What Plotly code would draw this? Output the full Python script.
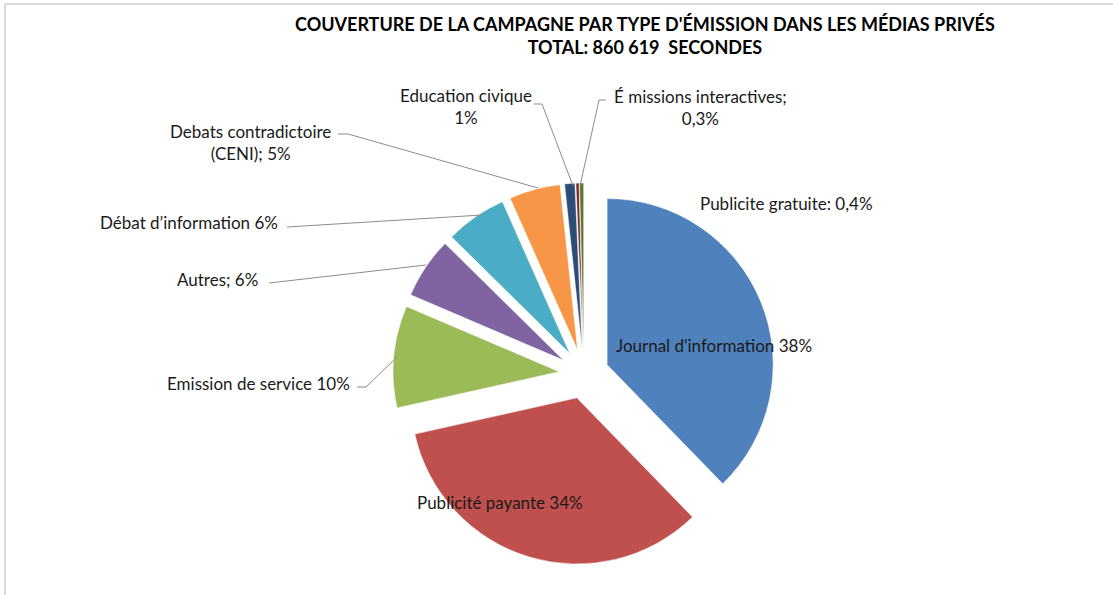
import plotly.graph_objects as go

W, H = 1113, 595

categories = [
    "Journal d'information", "Publicité payante", "Emission de service", "Autres",
    "Débat d’information", "Debats contradictoire (CENI)", "Education civique",
    "É missions interactives", "Publicite gratuite",
]
shares = [38, 34, 10, 6, 6, 5, 1, 0.3, 0.4]
label_texts = [
    "Journal d'information 38%", "Publicité payante 34%", "Emission de service 10%",
    "Autres; 6%", "Débat d’information 6%", "Debats contradictoire<br>(CENI); 5%",
    "Education civique<br>1%", "É missions interactives;<br>0,3%", "Publicite gratuite: 0,4%",
]
colors = ['#4F81BD', '#C0504D', '#9BBB59', '#8064A2', '#4BACC6', '#F79646',
          '#2C4D75', '#772C2A', '#5F7530']

FONT = "Lato"
LINE_COLOR = '#8c8c8c'


def px(x):
    return x / W


def py(y):
    return 1 - y / H


# label centre positions (pixels) and leader lines, in same order as categories
label_pos = [(714, 345), (500, 502), (258, 383), (217, 279), (189, 222),
             (250, 142), (466, 106), (700, 107), (786, 203)]
leaders = [
    None, None,
    [(357, 387), (366, 387), (397, 357)],
    [(269, 283), (426, 265)],
    [(287, 227), (482, 215)],
    [(338, 134), (348, 134), (538, 188)],
    [(534, 104), (542, 104), (573, 186)],
    [(606, 100), (599, 100), (580, 186)],
    None,
]

fig = go.Figure(go.Pie(
    labels=categories, values=shares,
    sort=False, direction='clockwise', rotation=0,
    marker=dict(colors=colors, line=dict(color='white', width=0.5)),
    pull=[0.15] * len(shares),
    textinfo='none', hoverinfo='label+percent',
    domain=dict(x=[px(393), px(775)], y=[py(565), py(183)]),
))

annotations = [dict(
    x=px(645), y=py(35), xref='paper', yref='paper', showarrow=False,
    xanchor='center', yanchor='middle',
    text="<b>COUVERTURE DE LA CAMPAGNE PAR TYPE D'ÉMISSION DANS LES MÉDIAS PRIVÉS</b><br>"
         "<b>TOTAL: 860 619  SECONDES</b>",
    font=dict(family=FONT, size=18, color='black'), align='center',
)]
for txt, (lx, ly) in zip(label_texts, label_pos):
    annotations.append(dict(
        x=px(lx), y=py(ly), xref='paper', yref='paper', showarrow=False,
        xanchor='center', yanchor='middle',
        text=txt, font=dict(family=FONT, size=17, color='#1a1a1a'), align='center',
    ))

shapes = []
for pts in leaders:
    if not pts:
        continue
    path = "M " + " L ".join(f"{px(x)},{py(y)}" for x, y in pts)
    shapes.append(dict(type='path', path=path, xref='paper', yref='paper',
                       line=dict(color=LINE_COLOR, width=1)))

# chart frame (top and left edges visible)
shapes.append(dict(type='line', xref='paper', yref='paper', x0=px(5), x1=1, y0=py(4), y1=py(4),
                   line=dict(color='#d9d9d9', width=2)))
shapes.append(dict(type='line', xref='paper', yref='paper', x0=px(5), x1=px(5), y0=py(4), y1=0,
                   line=dict(color='#d9d9d9', width=2)))

fig.update_layout(
    width=W, height=H, showlegend=False,
    margin=dict(l=0, r=0, t=0, b=0),
    paper_bgcolor='white', plot_bgcolor='white',
    annotations=annotations, shapes=shapes,
)
fig.write_html("out.html", config={'displayModeBar': False},
               post_script="document.body.style.margin='0';document.body.style.overflow='hidden';")
